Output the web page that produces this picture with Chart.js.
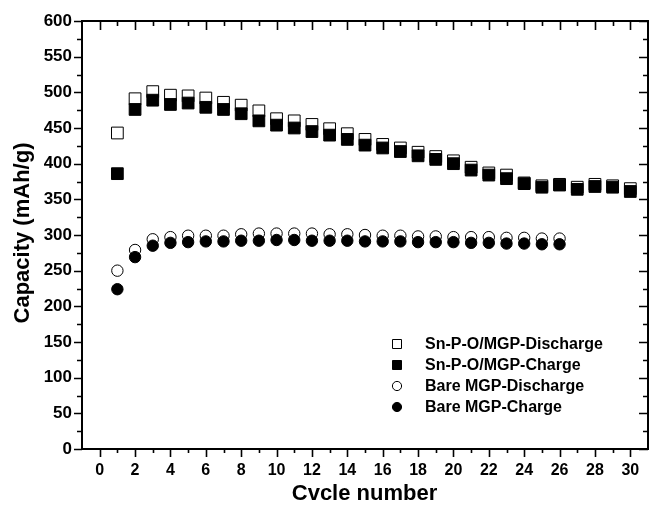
<!DOCTYPE html>
<html><head><meta charset="utf-8">
<script src="https://cdn.jsdelivr.net/npm/chart.js@4/dist/chart.umd.min.js"></script>
<style>
html,body{margin:0;padding:0;overflow:hidden;background:#fff;width:649px;height:507px}
#wrap{position:relative;width:660px;height:507px}
canvas{display:block}
</style></head>
<body><div id="wrap"><canvas id="c" width="660" height="507"></canvas></div>
<script>
const cycles = [1,2,3,4,5,6,7,8,9,10,11,12,13,14,15,16,17,18,19,20,21,22,23,24,25,26,27,28,29,30];
const snpoDischarge = [443,491,501,496,495,492,486,482,474,463,460,455,449,442,434,427,422,416,410,404,395,387,384,373,369,371,367,371,369,365];
const snpoCharge    = [386,476,489,483,485,479,476,470,460,454,450,445,440,434,426,422,417,411,406,400,391,384,379,372,367,370,364,368,367,361];
const bareCycles = [1,2,3,4,5,6,7,8,9,10,11,12,13,14,15,16,17,18,19,20,21,22,23,24,25,26];
const bareDischarge = [250,279,294,297,299,299,299,301,302,302,302,302,301,301,300,299,299,298,298,297,297,297,296,296,295,295];
const bareCharge    = [224,269,285,289,290,291,291,292,292,293,293,292,292,292,291,291,291,290,290,290,289,289,288,288,287,287];
const xTickLabels = [0,2,4,6,8,10,12,14,16,18,20,22,24,26,28,30];
const yTickLabels = [0,50,100,150,200,250,300,350,400,450,500,550,600];
const seriesNames = ['Sn-P-O/MGP-Discharge','Sn-P-O/MGP-Charge','Bare MGP-Discharge','Bare MGP-Charge'];
const xTitle = 'Cvcle number';
const yTitle = 'Capacity (mAh/g)';

const FONT = "'Liberation Sans', Arial, sans-serif";
Chart.defaults.font.family = FONT;
Chart.defaults.color = '#000';

function pts(xs, ys){ return xs.map((x,i)=>({x:x, y:ys[i]})); }

const decor = {
  id:'decor',
  beforeDatasetsDraw(chart){
    const ctx = chart.ctx, a = chart.chartArea;
    const xs = chart.scales.x, ys = chart.scales.y;
    ctx.save();
    ctx.strokeStyle = '#000';
    ctx.lineWidth = 1.6;
    ctx.beginPath();
    // x ticks
    for (let v = 0; v <= 30; v++) {
      const px = Math.round(xs.getPixelForValue(v)) + 0.5;
      const major = xTickLabels.includes(v);
      const lb = major ? 8 : 4, lt = major ? 9 : 5;
      ctx.moveTo(px, a.bottom); ctx.lineTo(px, a.bottom + lb);
      ctx.moveTo(px, a.top); ctx.lineTo(px, a.top + lt);
    }
    // y ticks
    for (let v = 0; v <= 600; v += 25) {
      const py = Math.round(ys.getPixelForValue(v)) + 0.5;
      const major = yTickLabels.includes(v);
      const ll = major ? 8 : 5, lr = major ? 9 : 5;
      ctx.moveTo(a.left, py); ctx.lineTo(a.left - ll, py);
      ctx.moveTo(a.right, py); ctx.lineTo(a.right - lr, py);
    }
    ctx.stroke();
    ctx.lineWidth = 2;
    ctx.strokeRect(a.left, a.top, a.right - a.left, a.bottom - a.top);
    // titles
    ctx.fillStyle = '#000';
    ctx.font = "bold 22px " + FONT;
    ctx.textAlign = 'center';
    ctx.textBaseline = 'middle';
    ctx.fillText(xTitle, 364.5, 494);
    ctx.translate(23, 233);
    ctx.rotate(-Math.PI/2);
    ctx.fillText(yTitle, 0, 0);
    ctx.restore();
  },
  afterDraw(chart){
    const ctx = chart.ctx;
    ctx.save();
    ctx.font = "bold 16px " + FONT;
    ctx.textAlign = 'left';
    ctx.textBaseline = 'middle';
    const rows = [344, 365, 386, 407];
    chart.data.datasets.forEach((ds, i) => {
      const y = rows[i], x = 397;
      ctx.fillStyle = ds.backgroundColor;
      ctx.strokeStyle = ds.borderColor;
      ctx.lineWidth = 1;
      ctx.beginPath();
      if (ds.pointStyle === 'rect') ctx.rect(x - 4.5, y - 4.5, 9, 9);
      else ctx.arc(x, y, 4.6, 0, Math.PI*2);
      ctx.fill(); ctx.stroke();
      ctx.fillStyle = '#000';
      ctx.fillText(ds.label, 425, y + 1);
    });
    ctx.restore();
  }
};

new Chart(document.getElementById('c'), {
  type:'scatter',
  data:{ datasets:[
    {label:seriesNames[0], data:pts(cycles, snpoDischarge), pointStyle:'rect', pointRadius:8.3, backgroundColor:'#fff', borderColor:'#000', borderWidth:1, order:4},
    {label:seriesNames[1], data:pts(cycles, snpoCharge), pointStyle:'rect', pointRadius:8.3, backgroundColor:'#000', borderColor:'#000', borderWidth:1, order:3},
    {label:seriesNames[2], data:pts(bareCycles, bareDischarge), pointStyle:'circle', pointRadius:5.7, backgroundColor:'#fff', borderColor:'#000', borderWidth:1, order:2},
    {label:seriesNames[3], data:pts(bareCycles, bareCharge), pointStyle:'circle', pointRadius:5.7, backgroundColor:'#000', borderColor:'#000', borderWidth:1, order:1}
  ]},
  options:{
    responsive:false, animation:false, events:[],
    layout:{ padding:{ top:21, right:5, left:0, bottom:0 } },
    plugins:{ legend:{display:false}, tooltip:{enabled:false} },
    scales:{
      x:{ type:'linear', position:'bottom', min:-1, max:31,
          afterFit(s){ s.height = 58; },
          grid:{display:false, drawTicks:false}, border:{display:false},
          ticks:{ stepSize:1, autoSkip:false, maxRotation:0, padding:12,
                  font:{size:16, weight:'bold'}, color:'#000',
                  callback:(v)=> xTickLabels.includes(v) ? String(v) : '' } },
      y:{ type:'linear', position:'left', min:0, max:600,
          afterFit(s){ s.width = 82; },
          grid:{display:false, drawTicks:false}, border:{display:false},
          ticks:{ stepSize:50, padding:10, font:{size:17, weight:'bold'}, color:'#000',
                  callback:(v)=> yTickLabels.includes(v) ? String(v) : '' } }
    }
  },
  plugins:[decor]
});
</script>
</body></html>
